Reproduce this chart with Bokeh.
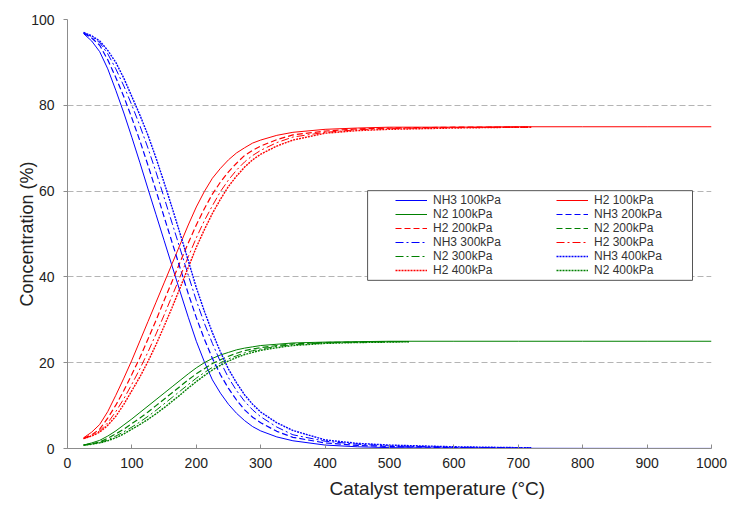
from bokeh.plotting import figure
from bokeh.models import Legend, LegendItem, BoxAnnotation, Title
from bokeh.embed import file_html
from bokeh.resources import INLINE

# Catalyst temperature samples (°C)
temps = [25, 37.5, 50, 62.5, 75, 87.5, 100, 112.5, 125, 137.5, 150, 162.5, 175, 187.5, 200,
         212.5, 225, 237.5, 250, 262.5, 275, 287.5, 300, 325, 350, 400, 450, 500, 600, 700, 720]
temps_100 = [25, 37.5, 50, 62.5, 75, 87.5, 100, 112.5, 125, 137.5, 150, 162.5, 175, 187.5, 200,
             212.5, 225, 237.5, 250, 262.5, 275, 287.5, 300, 325, 350, 400, 450, 500, 600, 700, 800, 900, 1000]
temps_n2 = [25, 37.5, 50, 62.5, 75, 87.5, 100, 112.5, 125, 137.5, 150, 162.5, 175, 187.5, 200,
            212.5, 225, 237.5, 250, 262.5, 275, 287.5, 300, 325, 350, 400, 450, 500, 530]

# Equilibrium concentrations (%) at 100 kPa
nh3_100 = [96.7, 95.0, 92.5, 88.5, 83.5, 78.2, 72.5, 66.6, 60.5, 54.5, 48.5, 42.5, 36.5, 30.6, 25.0,
           20.2, 16.0, 12.9, 10.3, 8.2, 6.5, 5.1, 4.1, 2.7, 1.8, 0.8, 0.4, 0.2, 0.1, 0.05, 0.03, 0.02, 0.02]
h2_100 = [2.5, 3.8, 5.6, 8.6, 12.4, 16.4, 20.6, 25.1, 29.6, 34.1, 38.6, 43.1, 47.6, 52.1, 56.3,
          59.9, 63.0, 65.3, 67.3, 68.9, 70.1, 71.2, 71.9, 73.0, 73.7, 74.4, 74.7, 74.9, 74.9, 75.0, 75.0, 75.0, 75.0]
n2_100 = [0.8, 1.3, 1.9, 2.9, 4.1, 5.5, 6.9, 8.4, 9.9, 11.4, 12.9, 14.4, 15.9, 17.4, 18.8,
          20.0, 21.0, 21.8, 22.4, 23.0, 23.4, 23.7, 24.0, 24.3, 24.6, 24.8, 24.9, 25.0, 25.0, 25.0, 25.0, 25.0, 25.0]

# 200 kPa
nh3_200 = [96.8, 95.7, 94.0, 90.6, 86.5, 82.0, 77.0, 71.7, 66.0, 60.1, 54.0, 48.0, 42.0, 36.1, 30.5,
           25.5, 21.0, 17.2, 14.0, 11.3, 9.0, 7.3, 6.0, 4.0, 2.6, 1.3, 0.7, 0.45, 0.2, 0.12, 0.1]
h2_200 = [2.4, 3.2, 4.5, 7.1, 10.1, 13.5, 17.3, 21.2, 25.5, 29.9, 34.5, 39.0, 43.5, 47.9, 52.1,
          55.9, 59.3, 62.1, 64.5, 66.5, 68.3, 69.5, 70.5, 72.0, 73.1, 74.0, 74.5, 74.7, 74.9, 74.9, 74.9]
n2_200 = [0.8, 1.1, 1.5, 2.4, 3.4, 4.5, 5.8, 7.1, 8.5, 10.0, 11.5, 13.0, 14.5, 16.0, 17.4,
          18.6, 19.8, 20.7, 21.5, 22.2, 22.8, 23.2, 23.5, 24.0, 24.4, 24.7, 24.8, 24.9, 24.9]

# 300 kPa
nh3_300 = [96.9, 96.0, 94.6, 92.0, 88.5, 84.5, 80.0, 75.2, 70.0, 64.4, 58.5, 52.5, 46.5, 40.4, 34.5,
           29.2, 24.5, 20.2, 16.5, 13.5, 11.0, 9.0, 7.4, 5.0, 3.2, 1.7, 1.0, 0.6, 0.3, 0.16, 0.15]
h2_300 = [2.3, 3.0, 4.1, 6.0, 8.6, 11.6, 15.0, 18.6, 22.5, 26.7, 31.1, 35.6, 40.1, 44.7, 49.1,
          53.1, 56.6, 59.9, 62.6, 64.9, 66.8, 68.3, 69.5, 71.3, 72.6, 73.7, 74.3, 74.6, 74.8, 74.9, 74.9]
n2_300 = [0.8, 1.0, 1.4, 2.0, 2.9, 3.9, 5.0, 6.2, 7.5, 8.9, 10.4, 11.9, 13.4, 14.9, 16.4,
          17.7, 18.9, 20.0, 20.9, 21.6, 22.3, 22.8, 23.2, 23.8, 24.2, 24.6, 24.8, 24.9, 24.9]

# 400 kPa
nh3_400 = [97.0, 96.2, 95.0, 92.8, 90.0, 86.3, 82.0, 77.7, 73.0, 67.7, 62.0, 56.1, 50.0, 43.8, 37.5,
           32.0, 27.0, 22.5, 18.5, 15.3, 12.5, 10.3, 8.5, 6.0, 4.2, 2.0, 1.2, 0.8, 0.4, 0.2, 0.2]
h2_400 = [2.3, 2.9, 3.8, 5.4, 7.5, 10.3, 13.5, 16.7, 20.3, 24.2, 28.5, 32.9, 37.5, 42.2, 46.9,
          51.0, 54.8, 58.1, 61.1, 63.5, 65.6, 67.3, 68.6, 70.5, 71.9, 73.5, 74.1, 74.4, 74.7, 74.9, 74.9]
n2_400 = [0.8, 1.0, 1.3, 1.8, 2.5, 3.4, 4.5, 5.6, 6.8, 8.1, 9.5, 11.0, 12.5, 14.1, 15.6,
          17.0, 18.3, 19.4, 20.4, 21.2, 21.9, 22.4, 22.9, 23.5, 24.0, 24.5, 24.7, 24.8, 24.9]

x_ticks = [0, 100, 200, 300, 400, 500, 600, 700, 800, 900, 1000]
y_ticks = [0, 20, 40, 60, 80, 100]

BLUE, RED, GREEN = "#0000ff", "#ff0000", "#008000"
FONT = "Liberation Sans"

p = figure(width=732, height=508, x_range=(0, 1000), y_range=(0, 100),
           output_backend="svg", toolbar_location=None,
           min_border_left=67, min_border_right=21, min_border_top=19, min_border_bottom=60)
p.outline_line_color = None
p.background_fill_color = "white"
p.border_fill_color = "white"

# grid
p.xgrid.visible = False
p.ygrid.grid_line_color = "#b4b4b4"
p.ygrid.grid_line_dash = "6 3"
p.ygrid.grid_line_width = 1

# axes
for ax in (p.xaxis[0], p.yaxis[0]):
    ax.axis_line_color = "#8c8c8c"
    ax.major_tick_line_color = "#8c8c8c"
    ax.minor_tick_line_color = None
    ax.major_label_text_font = FONT
    ax.major_label_text_font_size = "14px"
    ax.major_label_text_color = "#222222"
p.xaxis.ticker = x_ticks
p.yaxis.ticker = y_ticks
p.xaxis.major_tick_in = 4
p.xaxis.major_tick_out = 0
p.xaxis.major_label_standoff = 9
p.yaxis.major_tick_in = 0
p.yaxis.major_tick_out = 4
p.yaxis.major_label_standoff = 9

p.yaxis.axis_label = "Concentration (%)"
p.yaxis.axis_label_text_font = FONT
p.yaxis.axis_label_text_font_size = "18px"
p.yaxis.axis_label_text_font_style = "normal"
p.yaxis.axis_label_text_color = "#222222"
p.yaxis.axis_label_standoff = -9

series = [
    ("NH3 100kPa", temps_100, nh3_100, BLUE, "solid", 1.0),
    ("N2 100kPa", temps_100, n2_100, GREEN, "solid", 1.0),
    ("H2 200kPa", temps, h2_200, RED, "6 3", 1.2),
    ("NH3 300kPa", temps, nh3_300, BLUE, "8 3 2 3", 1.0),
    ("N2 300kPa", temps_n2, n2_300, GREEN, "8 3 2 3", 1.0),
    ("H2 400kPa", temps, h2_400, RED, "2 1", 1.4),
    ("H2 100kPa", temps_100, h2_100, RED, "solid", 1.0),
    ("NH3 200kPa", temps, nh3_200, BLUE, "6 3", 1.2),
    ("N2 200kPa", temps_n2, n2_200, GREEN, "6 3", 1.2),
    ("H2 300kPa", temps, h2_300, RED, "8 3 2 3", 1.0),
    ("NH3 400kPa", temps, nh3_400, BLUE, "2 1", 1.4),
    ("N2 400kPa", temps_n2, n2_400, GREEN, "2 1", 1.4),
]

items = []
for name, xs, ys, color, dash, lw in series:
    r = p.line(xs, ys, line_color=color, line_dash=dash, line_width=lw)
    items.append(LegendItem(label=name, renderers=[r]))

# legend frame
frame = BoxAnnotation(left=466, right=970.5, top=60.1, bottom=39.2,
                      fill_color="white", fill_alpha=1.0,
                      line_color="#555555", line_width=1, line_alpha=1.0)
p.add_layout(frame)

legend = Legend(items=items, ncols=2, orientation="vertical", location=(328, 171),
                padding=0, margin=0, spacing=0,
                glyph_width=32, glyph_height=14, label_height=14, label_width=123,
                label_standoff=6, label_text_font=FONT, label_text_font_size="12px",
                label_text_color="#333333",
                border_line_alpha=0, background_fill_alpha=0)
p.add_layout(legend, "center")

xlabel = Title(text="Catalyst temperature (°C)", align="left", offset=262,
               text_font=FONT, text_font_size="19px", text_font_style="normal",
               text_color="#222222", standoff=10)
p.add_layout(xlabel, "below")

open("out.html", "w").write(file_html(p, INLINE))
